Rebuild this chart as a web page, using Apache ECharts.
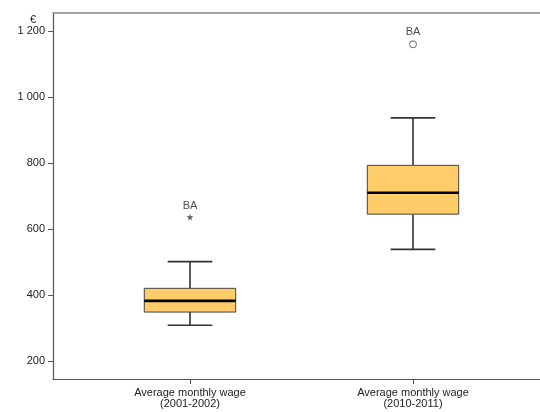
<!DOCTYPE html>
<html>
<head>
<meta charset="utf-8">
<script src="https://cdn.jsdelivr.net/npm/echarts@6/dist/echarts.min.js"></script>
<style>html,body{margin:0;padding:0;background:#fff}#c{width:540px;height:412px}</style>
</head>
<body>
<div id="c"></div>
<script>
const categories = ['Average monthly wage\n(2001-2002)', 'Average monthly wage\n(2010-2011)'];
const lowWhisker = [308, 538];
const q1 = [348, 645];
const median = [382, 710];
const q3 = [420, 793];
const highWhisker = [501, 937];
const outlierValues = [636, 1160];
const outlierLabels = ['BA', 'BA'];
const yTicks = [200, 400, 600, 800, 1000, 1200];
const yMin = 145, yMax = 1255;

const boxData = categories.map((c, i) => [i, lowWhisker[i], q1[i], median[i], q3[i], highWhisker[i]]);
const starPath = 'path://M50,0 L61,35 L98,35 L68,57 L79,91 L50,70 L21,91 L32,57 L2,35 L39,35 Z';

function renderBox(params, api) {
  const x = api.value(0);
  const band = api.size([1, 0])[0];
  const bw = band * 0.41, cw = band * 0.2;
  const pLow = api.coord([x, api.value(1)]);
  const pQ1 = api.coord([x, api.value(2)]);
  const pMed = api.coord([x, api.value(3)]);
  const pQ3 = api.coord([x, api.value(4)]);
  const pHigh = api.coord([x, api.value(5)]);
  const cx = pMed[0];
  const wStyle = { stroke: '#333', lineWidth: 1.6 };
  return {
    type: 'group',
    children: [
      { type: 'line', shape: { x1: cx, y1: pHigh[1], x2: cx, y2: pQ3[1] }, style: wStyle },
      { type: 'line', shape: { x1: cx, y1: pLow[1], x2: cx, y2: pQ1[1] }, style: wStyle },
      { type: 'line', shape: { x1: cx - cw / 2, y1: pHigh[1], x2: cx + cw / 2, y2: pHigh[1] }, style: wStyle },
      { type: 'line', shape: { x1: cx - cw / 2, y1: pLow[1], x2: cx + cw / 2, y2: pLow[1] }, style: wStyle },
      { type: 'rect', shape: { x: cx - bw / 2, y: pQ3[1], width: bw, height: pQ1[1] - pQ3[1] },
        style: { fill: '#FECC68', stroke: '#444', lineWidth: 1 } },
      { type: 'line', shape: { x1: cx - bw / 2, y1: pMed[1], x2: cx + bw / 2, y2: pMed[1] },
        style: { stroke: '#000', lineWidth: 2.6 } }
    ]
  };
}

const chart = echarts.init(document.getElementById('c'), null, { renderer: 'canvas' });
const font = 'Liberation Sans, Arial, sans-serif';
chart.setOption({
  animation: false,
  textStyle: { fontFamily: font },
  title: { text: '€', left: 25, top: 9, textStyle: { fontSize: 11, fontWeight: 'normal', color: '#222', fontFamily: font } },
  grid: [
    { left: 53, right: 0, top: 13, bottom: 33 },
    { left: 78.5, right: 15.5, top: 13, bottom: 33 }
  ],
  xAxis: [
    { type: 'value', gridIndex: 0, min: 0, max: 1, position: 'bottom',
      axisLine: { show: true, lineStyle: { color: '#555', width: 1.2 } },
      axisTick: { show: false }, axisLabel: { show: false }, splitLine: { show: false } },
    { type: 'value', gridIndex: 0, min: 0, max: 1, position: 'top',
      axisLine: { show: true, lineStyle: { color: '#888', width: 1.5 } },
      axisTick: { show: false }, axisLabel: { show: false }, splitLine: { show: false } },
    { type: 'category', gridIndex: 1, data: categories, boundaryGap: true,
      axisLine: { show: false },
      axisTick: { show: true, alignWithLabel: true, length: 5, lineStyle: { color: '#555' } },
      axisLabel: { margin: 8, fontSize: 11, lineHeight: 11, color: '#222', fontFamily: font } }
  ],
  yAxis: [
    { type: 'value', gridIndex: 0, min: yMin, max: yMax,
      axisLine: { show: true, lineStyle: { color: '#555', width: 1.2 } },
      axisTick: { show: true, length: 5, customValues: yTicks, lineStyle: { color: '#555' } },
      axisLabel: { customValues: yTicks, margin: 8, fontSize: 11, color: '#222', fontFamily: font,
        formatter: v => String(v).replace(/\B(?=(\d{3})+(?!\d))/g, ' ') },
      splitLine: { show: false } },
    { type: 'value', gridIndex: 1, min: yMin, max: yMax, show: false, splitLine: { show: false } }
  ],
  series: [
    { type: 'custom', xAxisIndex: 2, yAxisIndex: 1, renderItem: renderBox, data: boxData,
      encode: { x: 0, y: [1, 2, 3, 4, 5] } },
    { type: 'scatter', xAxisIndex: 2, yAxisIndex: 1,
      data: outlierValues.map((v, i) => ({
        value: [i, v],
        symbol: i === 0 ? starPath : 'circle',
        symbolSize: i === 0 ? 7 : 7,
        itemStyle: i === 0 ? { color: '#333', borderWidth: 0 } : { color: '#fff', borderColor: '#444', borderWidth: 1 },
        label: { show: true, formatter: outlierLabels[i], position: 'top', distance: i === 0 ? 2 : 3,
          fontSize: 11, color: '#222', fontFamily: font }
      }))
    }
  ]
});
</script>
</body>
</html>
